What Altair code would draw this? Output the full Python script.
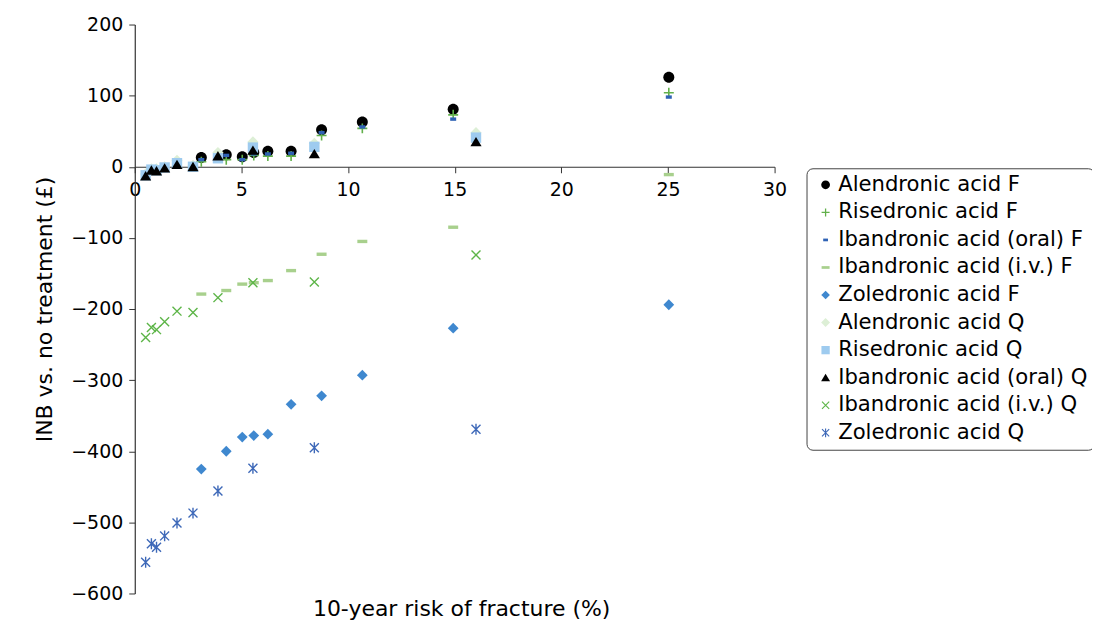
import math
import altair as alt
import pandas as pd

# ---------------- data ----------------
series_names = [
    "Alendronic acid F",
    "Risedronic acid F",
    "Ibandronic acid (oral) F",
    "Ibandronic acid (i.v.) F",
    "Zoledronic acid F",
    "Alendronic acid Q",
    "Risedronic acid Q",
    "Ibandronic acid (oral) Q",
    "Ibandronic acid (i.v.) Q",
    "Zoledronic acid Q",
]

risk_f = [3.12, 4.29, 5.04, 5.58, 6.24, 7.33, 8.76, 10.67, 14.93, 25.04]
risk_q = [0.51, 0.78, 1.02, 1.40, 1.98, 2.73, 3.90, 5.54, 8.42, 16.0]

alendronic_f = [13, 17, 14, 20, 22, 22, 52, 63, 81, 126]
risedronic_f = [7, 10, 10, 16, 15, 15, 44, 54, 73, 104]
ibandronic_oral_f = [10, 16, 10, 18, 18, 19, 48, 56, 67, 98]
ibandronic_iv_f = [-179, -174, -165, -163, -160, -146, -123, -105, -85, -11]
zoledronic_f = [-425, -400, -380, -378, -376, -334, -322, -293, -227, -194]
alendronic_q = [-10, -3, -3, 0, 9, 2, 20, 35, 33, 48]
risedronic_q = [-12, -4, -5, -1, 5, 0, 12, 27, 28, 41]
ibandronic_oral_q = [-13, -5, -6, -2, 3, 0, 15, 23, 18, 35]
ibandronic_iv_q = [-240, -226, -229, -218, -203, -205, -184, -163, -162, -124]
zoledronic_q = [-556, -530, -535, -519, -501, -487, -456, -424, -395, -369]

x_ticks = [0, 5, 10, 15, 20, 25, 30]
y_ticks = [-600, -500, -400, -300, -200, -100, 0, 100, 200]

series_values = [
    alendronic_f, risedronic_f, ibandronic_oral_f, ibandronic_iv_f, zoledronic_f,
    alendronic_q, risedronic_q, ibandronic_oral_q, ibandronic_iv_q, zoledronic_q,
]
series_x = [risk_f] * 5 + [risk_q] * 5

rows = []
for name, xs, ys in zip(series_names, series_x, series_values):
    for xv, yv in zip(xs, ys):
        rows.append({"series": name, "risk": xv, "inb": yv})
df = pd.DataFrame(rows)

# ---------------- marker shapes (unit paths) ----------------
def bar(x1, y1, x2, y2, t):
    dx, dy = x2 - x1, y2 - y1
    L = math.hypot(dx, dy)
    nx, ny = -dy / L * t / 2, dx / L * t / 2
    pts = [(x1 + nx, y1 + ny), (x2 + nx, y2 + ny), (x2 - nx, y2 - ny), (x1 - nx, y1 - ny)]
    return "M" + "L".join(f"{px:.3f},{py:.3f}" for px, py in pts) + "Z"


def rect(w, h):
    return f"M{-w:.3f},{-h:.3f}L{w:.3f},{-h:.3f}L{w:.3f},{h:.3f}L{-w:.3f},{h:.3f}Z"


circle = "M0.55,0A0.55,0.55,0,1,1,-0.55,0A0.55,0.55,0,1,1,0.55,0Z"
plus = bar(-0.5, 0, 0.5, 0, 0.16) + bar(0, -0.5, 0, 0.5, 0.16)
dash_small = rect(0.3, 0.17)
dash_wide = rect(0.5, 0.17)
diamond = "M0,-0.54L0.54,0L0,0.54L-0.54,0Z"
diamond_q = "M0,-0.56L0.56,0L0,0.56L-0.56,0Z"
square = rect(0.52, 0.52)
triangle = "M0,-0.5L0.56,0.44L-0.56,0.44Z"
xmark = bar(-0.45, -0.45, 0.45, 0.45, 0.14) + bar(0.45, -0.45, -0.45, 0.45, 0.14)
asterisk = xmark + bar(0, -0.55, 0, 0.55, 0.14)

series_shapes = [circle, plus, dash_small, dash_wide, diamond,
                 diamond_q, square, triangle, xmark, asterisk]
series_colors = ["#000000", "#62B04B", "#2F62B5", "#A8D08D", "#3F88CF",
                 "#DDEFD6", "#9ECBEF", "#000000", "#5DB548", "#3D68B8"]

FONT = "DejaVu Sans"

legend = alt.Legend(
    title=None,
    orient="none",
    legendX=673,
    legendY=144,
    labelFontSize=21.2,
    labelColor="black",
    labelFont=FONT,
    labelLimit=400,
    labelOffset=2,
    symbolSize=256,
    symbolStrokeWidth=0,
    symbolOffset=2.5,
    rowPadding=5.6,
    padding=6,
    strokeColor="#444444",
    fillColor="white",
    cornerRadius=6,
)

x_axis = alt.Axis(
    values=x_ticks,
    format="d",
    offset=-427.5,
    title="10-year risk of fracture (%)",
    titleFont=FONT,
    titleFontSize=22,
    titleFontWeight="normal",
    titleColor="black",
    titleX=327,
    titleY=449.5,
    titleBaseline="alphabetic",
    titleAlign="center",
    grid=False,
    tickSize=6,
    tickColor="#333333",
    domainColor="#333333",
    domainWidth=1.2,
    labelFont=FONT,
    labelFontSize=19,
    labelColor="black",
    labelPadding=8,
    labelFlush=False,
)

y_axis = alt.Axis(
    values=y_ticks,
    format="d",
    title="INB vs. no treatment (£)",
    titleFont=FONT,
    titleFontSize=22,
    titleFontWeight="normal",
    titleColor="black",
    titleAngle=270,
    titleX=-83,
    titleY=285,
    titleBaseline="alphabetic",
    titleAlign="center",
    grid=False,
    tickSize=6,
    tickColor="#333333",
    domainColor="#333333",
    domainWidth=1.2,
    labelFont=FONT,
    labelFontSize=19,
    labelColor="black",
    labelPadding=6,
    labelFlush=False,
)

chart = (
    alt.Chart(df)
    .mark_point(filled=True, size=400, opacity=1, strokeWidth=0)
    .encode(
        x=alt.X("risk:Q", scale=alt.Scale(domain=[0, 30], nice=False, zero=False), axis=x_axis),
        y=alt.Y("inb:Q", scale=alt.Scale(domain=[-600, 200], nice=False), axis=y_axis),
        color=alt.Color("series:N", scale=alt.Scale(domain=series_names, range=series_colors), legend=legend),
        shape=alt.Shape("series:N", scale=alt.Scale(domain=series_names, range=series_shapes), legend=legend),
    )
    .properties(
        width=641,
        height=570,
        autosize=alt.AutoSizeParams(type="none"),
        padding={"left": 127, "top": 16, "right": 318, "bottom": 26},
    )
    .configure(font=FONT)
    .configure_view(strokeWidth=0)
)

chart.save("out.html", embed_options={"renderer": "svg", "actions": False})
